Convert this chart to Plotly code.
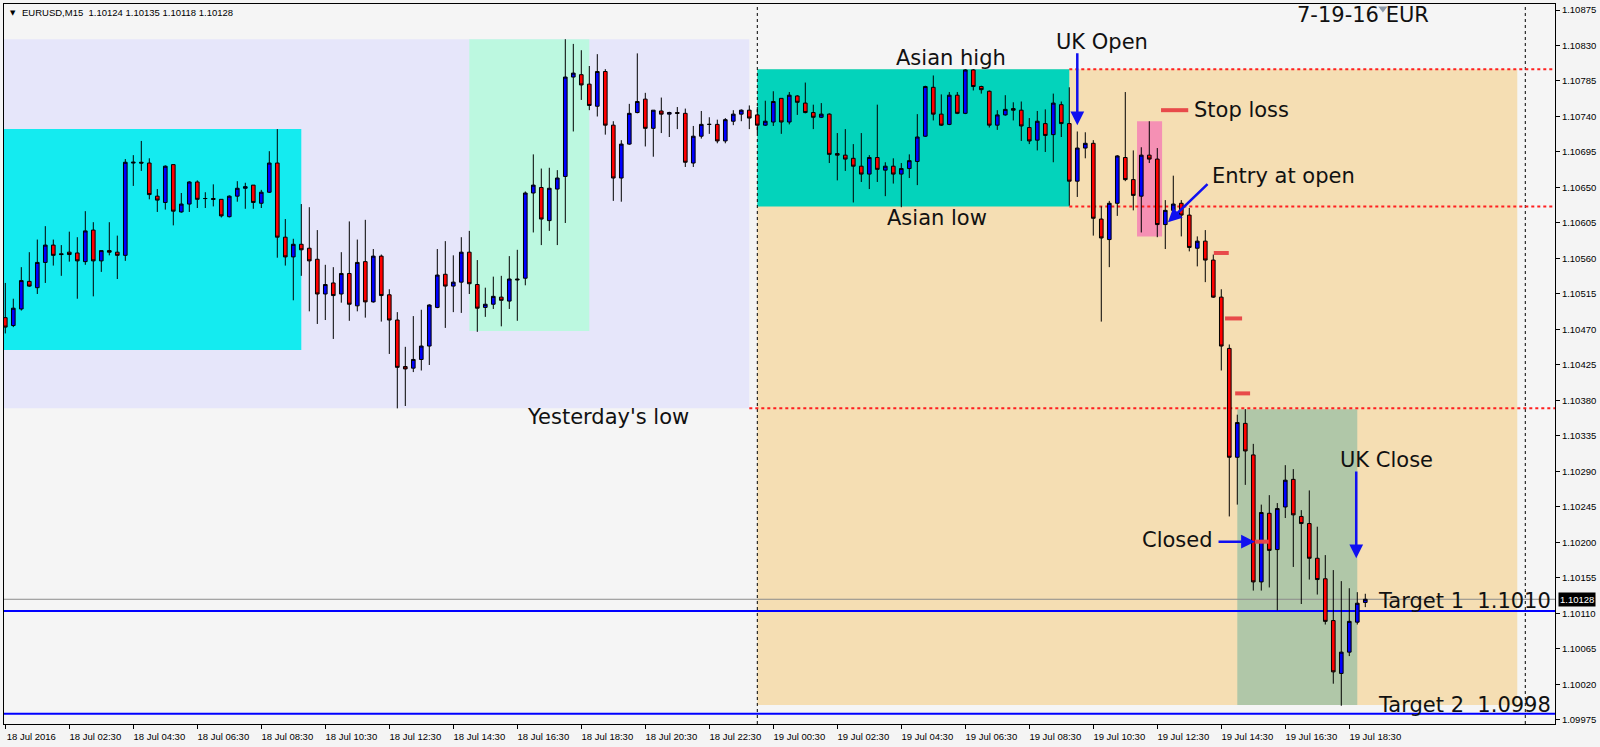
import pandas as pd
import plotly.graph_objects as go

# ---------------- data ----------------
bar_start = "2016-07-18 00:30"
opens = [1.10485, 1.10475, 1.10496, 1.10531, 1.10523, 1.10555, 1.10577, 1.10566, 1.10568, 1.10567,
         1.10556, 1.10596, 1.10557, 1.10570, 1.10568, 1.10564, 1.10681, 1.10682, 1.10681, 1.10639,
         1.10631, 1.10679, 1.10619, 1.10629, 1.10657, 1.10636, 1.10636, 1.10635, 1.10613, 1.10639,
         1.10649, 1.10653, 1.10630, 1.10644, 1.10681, 1.10587, 1.10562, 1.10578, 1.10573, 1.10559,
         1.10515, 1.10529, 1.10515, 1.10541, 1.10500, 1.10556, 1.10505, 1.10563, 1.10514, 1.10482,
         1.10423, 1.10421, 1.10432, 1.10449, 1.10498, 1.10540, 1.10525, 1.10530, 1.10568, 1.10527,
         1.10498, 1.10502, 1.10511, 1.10506, 1.10534, 1.10535, 1.10643, 1.10650, 1.10608, 1.10648,
         1.10664, 1.10790, 1.10793, 1.10781, 1.10753, 1.10797, 1.10729, 1.10662, 1.10705, 1.10745,
         1.10762, 1.10725, 1.10747, 1.10743, 1.10745, 1.10744, 1.10681, 1.10715, 1.10730, 1.10730,
         1.10709, 1.10734, 1.10743, 1.10748, 1.10742, 1.10729, 1.10733, 1.10763, 1.10733, 1.10766,
         1.10757, 1.10745, 1.10739, 1.10743, 1.10693, 1.10691, 1.10687, 1.10677, 1.10667, 1.10688,
         1.10672, 1.10677, 1.10667, 1.10674, 1.10683, 1.10715, 1.10777, 1.10743, 1.10730, 1.10767,
         1.10744, 1.10799, 1.10778, 1.10772, 1.10729, 1.10742, 1.10750, 1.10748, 1.10726, 1.10710,
         1.10731, 1.10717, 1.10755, 1.10731, 1.10658, 1.10700, 1.10706, 1.10610, 1.10584, 1.10630,
         1.10688, 1.10660, 1.10639, 1.10691, 1.10686, 1.10603, 1.10621, 1.10630, 1.10615, 1.10573,
         1.10582, 1.10558, 1.10511, 1.10446, 1.10308, 1.10351, 1.10311, 1.10150, 1.10237, 1.10191,
         1.10245, 1.10280, 1.10233, 1.10224, 1.10180, 1.10154, 1.10101, 1.10034, 1.10061, 1.10099,
         1.10124]
highs = [1.10529, 1.10509, 1.10549, 1.10568, 1.10584, 1.10601, 1.10584, 1.10577, 1.10594, 1.10587,
         1.10620, 1.10606, 1.10570, 1.10606, 1.10589, 1.10686, 1.10691, 1.10709, 1.10687, 1.10648,
         1.10678, 1.10679, 1.10643, 1.10658, 1.10659, 1.10644, 1.10654, 1.10635, 1.10640, 1.10658,
         1.10656, 1.10653, 1.10647, 1.10696, 1.10724, 1.10610, 1.10585, 1.10629, 1.10625, 1.10596,
         1.10552, 1.10549, 1.10568, 1.10607, 1.10584, 1.10609, 1.10572, 1.10565, 1.10521, 1.10492,
         1.10448, 1.10487, 1.10495, 1.10502, 1.10572, 1.10582, 1.10564, 1.10587, 1.10595, 1.10558,
         1.10523, 1.10537, 1.10538, 1.10563, 1.10571, 1.10645, 1.10692, 1.10674, 1.10675, 1.10672,
         1.10838, 1.10832, 1.10824, 1.10804, 1.10819, 1.10800, 1.10734, 1.10710, 1.10756, 1.10820,
         1.10770, 1.10748, 1.10764, 1.10746, 1.10752, 1.10750, 1.10728, 1.10747, 1.10739, 1.10736,
         1.10738, 1.10748, 1.10749, 1.10754, 1.10752, 1.10760, 1.10772, 1.10763, 1.10771, 1.10767,
         1.10783, 1.10755, 1.10757, 1.10744, 1.10719, 1.10724, 1.10705, 1.10719, 1.10691, 1.10755,
         1.10682, 1.10687, 1.10681, 1.10692, 1.10743, 1.10779, 1.10792, 1.10768, 1.10771, 1.10771,
         1.10800, 1.10800, 1.10779, 1.10773, 1.10748, 1.10767, 1.10758, 1.10759, 1.10738, 1.10747,
         1.10749, 1.10769, 1.10759, 1.10777, 1.10721, 1.10720, 1.10710, 1.10626, 1.10633, 1.10691,
         1.10771, 1.10697, 1.10701, 1.10734, 1.10700, 1.10634, 1.10665, 1.10634, 1.10624, 1.10588,
         1.10596, 1.10565, 1.10521, 1.10451, 1.10362, 1.10369, 1.10325, 1.10248, 1.10260, 1.10250,
         1.10298, 1.10293, 1.10241, 1.10266, 1.10220, 1.10184, 1.10165, 1.10151, 1.10142, 1.10137,
         1.10135]
lows = [1.10465, 1.10473, 1.10494, 1.10524, 1.10515, 1.10529, 1.10551, 1.10538, 1.10556, 1.10509,
        1.10552, 1.10512, 1.10543, 1.10564, 1.10534, 1.10557, 1.10652, 1.10671, 1.10635, 1.10619,
        1.10622, 1.10602, 1.10618, 1.10619, 1.10624, 1.10624, 1.10626, 1.10612, 1.10612, 1.10632,
        1.10623, 1.10623, 1.10624, 1.10643, 1.10561, 1.10551, 1.10507, 1.10538, 1.10493, 1.10477,
        1.10482, 1.10458, 1.10504, 1.10481, 1.10493, 1.10485, 1.10504, 1.10480, 1.10439, 1.10370,
        1.10373, 1.10416, 1.10418, 1.10425, 1.10497, 1.10472, 1.10492, 1.10491, 1.10515, 1.10467,
        1.10486, 1.10496, 1.10474, 1.10496, 1.10481, 1.10526, 1.10593, 1.10577, 1.10595, 1.10577,
        1.10605, 1.10721, 1.10761, 1.10748, 1.10740, 1.10717, 1.10633, 1.10632, 1.10704, 1.10744,
        1.10702, 1.10689, 1.10719, 1.10714, 1.10724, 1.10676, 1.10676, 1.10712, 1.10718, 1.10706,
        1.10706, 1.10729, 1.10734, 1.10724, 1.10719, 1.10728, 1.10728, 1.10718, 1.10730, 1.10742,
        1.10744, 1.10724, 1.10738, 1.10681, 1.10659, 1.10671, 1.10631, 1.10657, 1.10648, 1.10657,
        1.10639, 1.10655, 1.10625, 1.10662, 1.10653, 1.10714, 1.10735, 1.10728, 1.10729, 1.10743,
        1.10743, 1.10773, 1.10769, 1.10726, 1.10723, 1.10741, 1.10735, 1.10709, 1.10705, 1.10697,
        1.10695, 1.10682, 1.10714, 1.10627, 1.10638, 1.10687, 1.10589, 1.10480, 1.10549, 1.10614,
        1.10658, 1.10621, 1.10593, 1.10681, 1.10587, 1.10572, 1.10620, 1.10588, 1.10569, 1.10550,
        1.10530, 1.10510, 1.10418, 1.10233, 1.10248, 1.10273, 1.10139, 1.10139, 1.10143, 1.10114,
        1.10231, 1.10169, 1.10122, 1.10153, 1.10134, 1.10096, 1.10021, 1.09993, 1.10056, 1.10096,
        1.10118]
closes = [1.10473, 1.10497, 1.10532, 1.10525, 1.10555, 1.10577, 1.10564, 1.10565, 1.10565, 1.10557,
          1.10595, 1.10557, 1.10570, 1.10568, 1.10564, 1.10682, 1.10682, 1.10681, 1.10641, 1.10634,
          1.10677, 1.10620, 1.10629, 1.10657, 1.10635, 1.10636, 1.10635, 1.10614, 1.10639, 1.10649,
          1.10651, 1.10631, 1.10644, 1.10681, 1.10587, 1.10562, 1.10578, 1.10571, 1.10557, 1.10515,
          1.10527, 1.10513, 1.10541, 1.10502, 1.10555, 1.10505, 1.10563, 1.10513, 1.10482, 1.10422,
          1.10420, 1.10432, 1.10449, 1.10501, 1.10539, 1.10525, 1.10530, 1.10568, 1.10528, 1.10497,
          1.10502, 1.10512, 1.10507, 1.10534, 1.10533, 1.10643, 1.10653, 1.10610, 1.10649, 1.10662,
          1.10790, 1.10795, 1.10780, 1.10754, 1.10797, 1.10729, 1.10662, 1.10705, 1.10744, 1.10759,
          1.10725, 1.10748, 1.10743, 1.10745, 1.10744, 1.10682, 1.10715, 1.10730, 1.10730, 1.10709,
          1.10736, 1.10743, 1.10748, 1.10738, 1.10729, 1.10734, 1.10759, 1.10733, 1.10767, 1.10758,
          1.10745, 1.10739, 1.10743, 1.10692, 1.10691, 1.10686, 1.10677, 1.10667, 1.10688, 1.10673,
          1.10677, 1.10667, 1.10674, 1.10684, 1.10714, 1.10778, 1.10743, 1.10729, 1.10767, 1.10744,
          1.10799, 1.10778, 1.10774, 1.10729, 1.10742, 1.10749, 1.10748, 1.10728, 1.10709, 1.10734,
          1.10716, 1.10757, 1.10731, 1.10658, 1.10700, 1.10706, 1.10611, 1.10586, 1.10630, 1.10690,
          1.10660, 1.10640, 1.10691, 1.10686, 1.10603, 1.10621, 1.10629, 1.10615, 1.10574, 1.10582,
          1.10558, 1.10511, 1.10449, 1.10308, 1.10352, 1.10316, 1.10150, 1.10238, 1.10190, 1.10243,
          1.10279, 1.10235, 1.10224, 1.10180, 1.10153, 1.10100, 1.10036, 1.10061, 1.10100, 1.10123,
          1.10128]
times = pd.date_range(bar_start, periods=len(opens), freq="15min")

x_tick_times = ["2016-07-18 00:30", "2016-07-18 02:30", "2016-07-18 04:30", "2016-07-18 06:30",
                "2016-07-18 08:30", "2016-07-18 10:30", "2016-07-18 12:30", "2016-07-18 14:30",
                "2016-07-18 16:30", "2016-07-18 18:30", "2016-07-18 20:30", "2016-07-18 22:30",
                "2016-07-19 00:30", "2016-07-19 02:30", "2016-07-19 04:30", "2016-07-19 06:30",
                "2016-07-19 08:30", "2016-07-19 10:30", "2016-07-19 12:30", "2016-07-19 14:30",
                "2016-07-19 16:30", "2016-07-19 18:30"]
x_tick_labels = ["18 Jul 2016", "18 Jul 02:30", "18 Jul 04:30", "18 Jul 06:30", "18 Jul 08:30",
                 "18 Jul 10:30", "18 Jul 12:30", "18 Jul 14:30", "18 Jul 16:30", "18 Jul 18:30",
                 "18 Jul 20:30", "18 Jul 22:30", "19 Jul 00:30", "19 Jul 02:30", "19 Jul 04:30",
                 "19 Jul 06:30", "19 Jul 08:30", "19 Jul 10:30", "19 Jul 12:30", "19 Jul 14:30",
                 "19 Jul 16:30", "19 Jul 18:30"]
y_ticks = [1.10875, 1.10830, 1.10785, 1.10740, 1.10695, 1.10650, 1.10605, 1.10560, 1.10515,
           1.10470, 1.10425, 1.10380, 1.10335, 1.10290, 1.10245, 1.10200, 1.10155, 1.10110,
           1.10065, 1.10020, 1.09975]
x_range = ["2016-07-18 00:27:34", "2016-07-20 00:55:42"]
y_range = [1.099699, 1.108826]

# session / range boxes (time from, time to, low, high)
box_t0 = ["2016-07-18 00:00", "2016-07-18 00:00", "2016-07-18 15:00", "2016-07-19 00:00",
          "2016-07-19 00:00", "2016-07-19 15:00", "2016-07-19 11:52"]
box_t1 = ["2016-07-18 23:45", "2016-07-18 09:45", "2016-07-18 18:45", "2016-07-19 23:45",
          "2016-07-19 09:45", "2016-07-19 18:45", "2016-07-19 12:39"]
box_low = [1.10370, 1.10444, 1.10468, 1.09994, 1.10626, 1.09994, 1.10588]
box_high = [1.10838, 1.10724, 1.10838, 1.10800, 1.10800, 1.10369, 1.10734]

# red dotted levels (start time, price)
level_t0 = ["2016-07-19 09:45", "2016-07-19 09:45", "2016-07-18 23:45"]
level_price = [1.10800, 1.10626, 1.10370]

# target lines and current price
target_prices = [1.10113, 1.09983]
last_price = 1.10128
day_breaks = ["2016-07-19 00:00", "2016-07-20 00:00"]

# stop-loss trail marks (t0, t1, price)
stop_t0 = ["2016-07-19 12:37", "2016-07-19 14:16", "2016-07-19 14:37", "2016-07-19 14:56", "2016-07-19 15:33"]
stop_t1 = ["2016-07-19 13:28", "2016-07-19 14:44", "2016-07-19 15:09", "2016-07-19 15:24", "2016-07-19 15:59"]
stop_price = [1.10748, 1.10567, 1.10484, 1.10389, 1.10201]

# arrows (tail time, tail price, tip time, tip price)
arrow_t0 = ["2016-07-19 10:00", "2016-07-19 14:07", "2016-07-19 14:22", "2016-07-19 18:43"]
arrow_p0 = [1.10822, 1.10656, 1.10201, 1.10292]
arrow_t1 = ["2016-07-19 10:00", "2016-07-19 12:50", "2016-07-19 15:33", "2016-07-19 18:43"]
arrow_p1 = [1.10729, 1.10606, 1.10201, 1.10180]

# text notes (text, time, price)
note_text = ["UK Open", "Asian high", "Asian low", "Yesterday's low", "UK Close", "Closed", "7-19-16 EUR"]
note_time = ["2016-07-19 10:46", "2016-07-19 06:03", "2016-07-19 05:37", "2016-07-18 19:20",
             "2016-07-19 19:39", "2016-07-19 13:07", "2016-07-19 18:56"]
note_price = [1.10834, 1.10814, 1.10611, 1.10359, 1.10305, 1.10203, 1.10869]
left_note_text = ["Stop loss", "Entry at open"]
left_note_time = ["2016-07-19 13:35", "2016-07-19 14:09"]
left_note_price = [1.10748, 1.10665]
target_text = ["Target 1\u00a0\u00a01.1010", "Target 2\u00a0\u00a01.0998"]
target_text_price = [1.10126, 1.09994]
header = "EURUSD,M15\u00a0\u00a01.10124 1.10135 1.10118 1.10128"
shift_marker_time = ["2016-07-19 19:33"]
shift_marker_price = [1.10877]

# ---------------- styles ----------------
box_colors = ["#E6E6FA", "#14EBF0", "#BCF8E0", "#F5DEB3", "#03D3BB", "#B0C7A8", "#F590B4"]
BIG = dict(family="DejaVu Sans", size=21, color="#111111")
SMALL = dict(family="Liberation Sans, Arial", size=9.5, color="#000000")

fig = go.Figure()
fig.add_trace(go.Candlestick(
    x=times, open=opens, high=highs, low=lows, close=closes,
    increasing=dict(line=dict(color="black", width=1), fillcolor="#0000FF"),
    decreasing=dict(line=dict(color="black", width=1), fillcolor="#FF0000"),
    whiskerwidth=0, hoverinfo="skip", showlegend=False,
))
fig.add_trace(go.Scatter(
    x=shift_marker_time, y=shift_marker_price, mode="markers", cliponaxis=False,
    marker=dict(symbol="triangle-down", size=8, color="#8A98A8", line=dict(width=0)),
    hoverinfo="skip", showlegend=False,
))

shapes = []
for t0, t1, lo, hi, c in zip(box_t0, box_t1, box_low, box_high, box_colors):
    shapes.append(dict(type="rect", xref="x", yref="y", x0=t0, x1=t1, y0=lo, y1=hi,
                       fillcolor=c, line=dict(width=0), layer="below"))
for t in day_breaks:
    shapes.append(dict(type="line", xref="x", yref="y", x0=t, x1=t, y0=y_range[0], y1=y_range[1],
                       line=dict(color="black", width=1, dash="3px,3px"), layer="below"))
for t0, p in zip(level_t0, level_price):
    shapes.append(dict(type="line", xref="x", yref="y", x0=t0, x1=x_range[1], y0=p, y1=p,
                       line=dict(color="#FF2020", width=2, dash="dot"), layer="below"))
shapes.append(dict(type="line", xref="x", yref="y", x0=x_range[0], x1=x_range[1],
                   y0=last_price, y1=last_price, line=dict(color="#8C8C8C", width=1), layer="below"))
for p in target_prices:
    shapes.append(dict(type="line", xref="x", yref="y", x0=x_range[0], x1=x_range[1], y0=p, y1=p,
                       line=dict(color="#0000FF", width=2), layer="below"))
for t0, t1, p in zip(stop_t0, stop_t1, stop_price):
    shapes.append(dict(type="line", xref="x", yref="y", x0=t0, x1=t1, y0=p, y1=p,
                       line=dict(color="#E84A4A", width=4), layer="above"))

ann = []
for t0, p0, t1, p1 in zip(arrow_t0, arrow_p0, arrow_t1, arrow_p1):
    ann.append(dict(x=t1, y=p1, ax=t0, ay=p0, xref="x", yref="y", axref="x", ayref="y",
                    text="", showarrow=True, arrowhead=2, arrowsize=1.1, arrowwidth=2.5,
                    arrowcolor="#1010F0", standoff=0))
for s, t, p in zip(note_text, note_time, note_price):
    ann.append(dict(x=t, y=p, xref="x", yref="y", text=s, showarrow=False, font=BIG,
                    xanchor="center", yanchor="middle"))
for s, t, p in zip(left_note_text, left_note_time, left_note_price):
    ann.append(dict(x=t, y=p, xref="x", yref="y", text=s, showarrow=False, font=BIG,
                    xanchor="left", yanchor="middle"))
for s, p in zip(target_text, target_text_price):
    ann.append(dict(x=0.9987, y=p, xref="paper", yref="y", text=s, showarrow=False, font=BIG,
                    xanchor="right", yanchor="middle"))
ann.append(dict(x=1, y=last_price, xref="paper", yref="y", text=f"{last_price:.5f}", showarrow=False,
                xanchor="left", yanchor="middle", xshift=3, bgcolor="black", borderpad=1,
                font=dict(family=SMALL["family"], size=9.5, color="white")))
ann.append(dict(x=0.0103, y=0.9875, xref="paper", yref="paper", text=header, showarrow=False,
                xanchor="left", yanchor="middle", font=SMALL))
ann.append(dict(x=0.0025, y=0.9875, xref="paper", yref="paper", text="\u25BC", showarrow=False,
                xanchor="left", yanchor="middle", font=dict(family="DejaVu Sans", size=7, color="black")))

fig.update_layout(
    width=1600, height=747, autosize=False,
    margin=dict(l=4, r=45, t=4, b=23, pad=0),
    paper_bgcolor="#F4F4F4", plot_bgcolor="#F5F5F5",
    showlegend=False, shapes=shapes, annotations=ann, boxgap=0.35,
    xaxis=dict(type="date", range=x_range, tickvals=x_tick_times, ticktext=x_tick_labels,
               ticks="outside", ticklen=4, tickcolor="black", tickfont=SMALL, ticklabelshift=26,
               showgrid=False, zeroline=False, showline=True, linecolor="black", linewidth=1,
               mirror=True, rangeslider=dict(visible=False), fixedrange=True, automargin=False),
    yaxis=dict(side="right", range=y_range, tickvals=y_ticks, ticktext=[f"{v:.5f}" for v in y_ticks],
               ticks="outside", ticklen=4, tickcolor="black", tickfont=SMALL,
               showgrid=False, zeroline=False, showline=True, linecolor="black", linewidth=1,
               mirror=True, fixedrange=True, automargin=False),
)

fig.write_html("out.html", config={"displayModeBar": False},
               post_script="document.body.style.margin='0';document.body.style.overflow='hidden';")
